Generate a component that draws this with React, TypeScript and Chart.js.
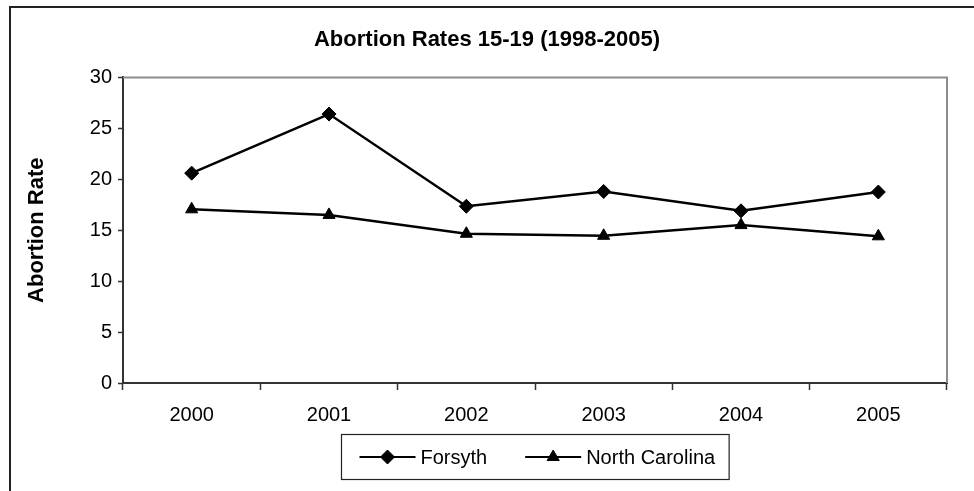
import React, { useEffect, useRef } from "react";
import { Chart, registerables } from "chart.js";

Chart.register(...registerables);

const years = ["2000", "2001", "2002", "2003", "2004", "2005"];
const forsyth = [20.6, 26.4, 17.35, 18.8, 16.9, 18.75];
const northCarolina = [17.05, 16.5, 14.65, 14.45, 15.5, 14.4];
const seriesNames = ["Forsyth", "North Carolina"];
const chartTitle = "Abortion Rates 15-19 (1998-2005)";
const yTitle = "Abortion Rate";

const FONT = "'Liberation Sans', Arial, sans-serif";

const framePlugin = {
  id: "frame",
  beforeDraw(chart: any) {
    const ctx = chart.ctx;
    ctx.save();
    ctx.fillStyle = "#ffffff";
    ctx.fillRect(0, 0, chart.width, chart.height);
    ctx.strokeStyle = "#222";
    ctx.lineWidth = 2;
    ctx.beginPath();
    ctx.moveTo(10, chart.height + 5);
    ctx.lineTo(10, 7);
    ctx.lineTo(chart.width + 5, 7);
    ctx.stroke();
    ctx.restore();
  },
  afterDatasetsDraw(chart: any) {
    const { ctx, chartArea } = chart;
    ctx.save();
    ctx.strokeStyle = "#8c8c8c";
    ctx.lineWidth = 2;
    ctx.beginPath();
    ctx.moveTo(chartArea.left, chartArea.top);
    ctx.lineTo(chartArea.right, chartArea.top);
    ctx.lineTo(chartArea.right, chartArea.bottom);
    ctx.stroke();
    ctx.restore();
  },
  afterDraw(chart: any) {
    const { ctx, chartArea } = chart;
    ctx.save();
    ctx.font = `20px ${FONT}`;
    const lineLen = 56;
    const gap = 5;
    const itemGap = 38;
    const padL = 18;
    const padR = 14;
    const widths = chart.data.datasets.map((d: any) => ctx.measureText(d.label).width);
    let total = padL + padR;
    widths.forEach((w: number, i: number) => {
      total += lineLen + gap + w + (i > 0 ? itemGap : 0);
    });
    const cx = (chartArea.left + chartArea.right) / 2;
    const left = Math.round(cx - total / 2) + 0.5;
    const top = 434.5;
    const h = 45;
    ctx.strokeStyle = "#222";
    ctx.lineWidth = 1.2;
    ctx.strokeRect(left, top, total, h);
    const cy = top + h / 2;
    let x = left + padL;
    chart.data.datasets.forEach((d: any, i: number) => {
      if (i > 0) x += itemGap;
      ctx.strokeStyle = "#000";
      ctx.lineWidth = 2;
      ctx.beginPath();
      ctx.moveTo(x, cy);
      ctx.lineTo(x + lineLen, cy);
      ctx.stroke();
      ctx.fillStyle = "#000";
      ctx.strokeStyle = "#000";
      ctx.lineWidth = 1;
      const mx = x + lineLen / 2;
      ctx.beginPath();
      if (d.pointStyle === "rectRot") {
        const r = d.pointRadius;
        ctx.moveTo(mx, cy - r);
        ctx.lineTo(mx + r, cy);
        ctx.lineTo(mx, cy + r);
        ctx.lineTo(mx - r, cy);
      } else {
        const r = d.pointRadius;
        const s = r * Math.sqrt(3);
        ctx.moveTo(mx, cy - r);
        ctx.lineTo(mx + s / 2, cy + r / 2);
        ctx.lineTo(mx - s / 2, cy + r / 2);
      }
      ctx.closePath();
      ctx.fill();
      ctx.stroke();
      ctx.fillStyle = "#000";
      ctx.textAlign = "left";
      ctx.textBaseline = "middle";
      ctx.fillText(d.label, x + lineLen + gap, cy + 1);
      x += lineLen + gap + widths[i];
    });
    ctx.restore();
  },
};

export default function App() {
  const ref = useRef<HTMLCanvasElement>(null);
  useEffect(() => {
    if (!ref.current) return;
    const chart = new Chart(ref.current, {
      type: "line",
      data: {
        labels: years,
        datasets: [
          {
            label: seriesNames[0],
            data: forsyth,
            borderColor: "#000",
            backgroundColor: "#000",
            borderWidth: 2.5,
            pointStyle: "rectRot",
            pointRadius: 7,
            pointBorderWidth: 1,
            pointBackgroundColor: "#000",
            pointBorderColor: "#000",
            tension: 0,
          },
          {
            label: seriesNames[1],
            data: northCarolina,
            borderColor: "#000",
            backgroundColor: "#000",
            borderWidth: 2.5,
            pointStyle: "triangle",
            pointRadius: 7,
            pointBorderWidth: 1,
            pointBackgroundColor: "#000",
            pointBorderColor: "#000",
            tension: 0,
          },
        ],
      },
      options: {
        animation: false,
        responsive: false,
        devicePixelRatio: 1,
        layout: { padding: { left: 0, right: 0, top: 0, bottom: 0 } },
        plugins: {
          legend: { display: false },
          tooltip: { enabled: false },
          title: {
            display: true,
            text: chartTitle,
            color: "#000",
            font: { family: FONT, size: 22, weight: "bold", lineHeight: 1.2 },
            padding: { top: 27, bottom: 24 },
          },
        },
        scales: {
          x: {
            offset: true,
            grid: {
              offset: true,
              drawOnChartArea: false,
              drawTicks: true,
              tickLength: 7,
              tickWidth: 1.5,
              tickColor: "#333",
            },
            border: { display: true, color: "#333", width: 2 },
            ticks: {
              color: "#000",
              font: { family: FONT, size: 20 },
              padding: 13,
              maxRotation: 0,
            },
            afterFit(scale: any) {
              scale.height = 108;
            },
          },
          y: {
            min: 0,
            max: 30,
            grid: {
              drawOnChartArea: false,
              drawTicks: true,
              tickLength: 5,
              tickWidth: 1.5,
              tickColor: "#333",
            },
            border: { display: true, color: "#333", width: 2 },
            ticks: {
              stepSize: 5,
              color: "#000",
              font: { family: FONT, size: 20 },
              padding: 6,
            },
            title: {
              display: true,
              text: yTitle,
              color: "#000",
              font: { family: FONT, size: 22, weight: "bold", lineHeight: 1.2 },
              padding: { top: 24, bottom: 0 },
            },
            afterFit(scale: any) {
              scale.width = 123;
            },
          },
          yRight: {
            position: "right",
            min: 0,
            max: 30,
            grid: { display: false, drawOnChartArea: false, drawTicks: false },
            border: { display: false },
            ticks: { display: false },
            afterFit(scale: any) {
              scale.width = 27;
            },
          },
        },
      },
      plugins: [framePlugin],
    });
    return () => chart.destroy();
  }, []);
  return (
    <div style={{ position: "fixed", left: 0, top: 0, width: 974, height: 491, background: "#fff" }}>
      <canvas ref={ref} width={974} height={491} style={{ display: "block", width: 974, height: 491 }} />
    </div>
  );
}
